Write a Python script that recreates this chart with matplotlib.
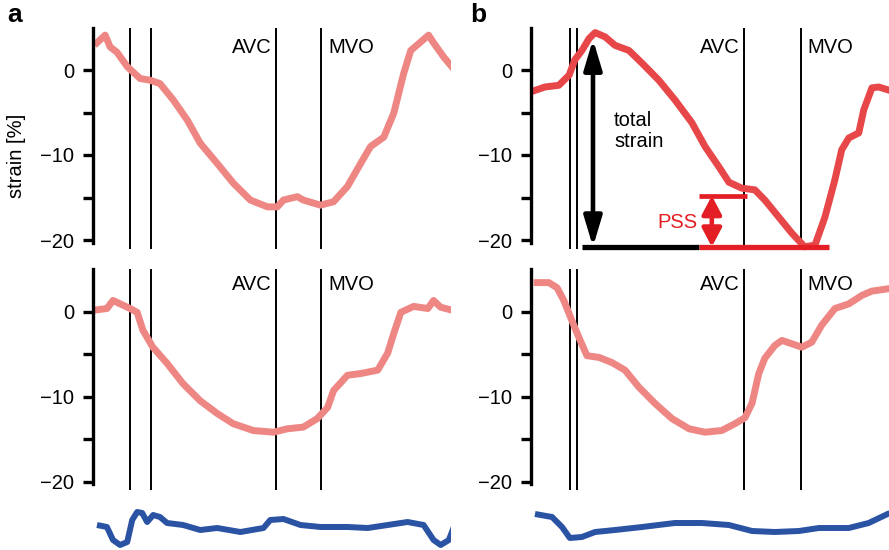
import numpy as np
import matplotlib.pyplot as plt

plt.rcParams['font.family'] = ['Liberation Sans', 'DejaVu Sans']

# time axis in % of cardiac cycle
# panel a, top (strain %)
a1_t = [0, 2.3, 3.7, 5.6, 8.5, 12.1, 14.9, 17.7, 21.4, 25.4, 29.0, 33.8, 38.3, 43.1,
        47.9, 50.7, 52.4, 56.3, 58.0, 62.8, 66.5, 70.4, 74.1, 76.9, 80.6, 83.4, 86.2,
        88.2, 91.0, 93.2, 94.6, 97.5, 100.3]
a1_s = [3.2, 4.1, 2.7, 2.1, 0.4, -1.0, -1.2, -1.6, -3.5, -5.9, -8.6, -11.0, -13.3, -15.3,
        -16.1, -16.1, -15.3, -14.9, -15.3, -15.9, -15.5, -13.7, -11.0, -9.0, -7.9, -5.1, -0.4,
        2.3, 3.3, 4.1, 3.2, 1.5, 0.1]

# panel a, bottom
a2_t = [0, 2.8, 4.5, 6.5, 9.3, 11.3, 12.9, 15.7, 19.7, 24.2, 29.0, 33.8, 38.3, 43.9,
        49.6, 53.5, 58.0, 61.9, 64.8, 66.5, 70.4, 74.1, 78.9, 81.7, 83.4, 85.4, 89.0,
        93.0, 94.6, 96.6, 99.4, 100.3]
a2_s = [0.2, 0.35, 1.3, 0.9, 0.35, -0.1, -2.2, -4.2, -6.1, -8.5, -10.5, -12.0, -13.2, -14.0,
        -14.2, -13.8, -13.6, -12.6, -11.3, -9.3, -7.5, -7.3, -6.9, -4.9, -2.6, -0.1, 0.6,
        0.35, 1.3, 0.5, 0.2, 0.1]

# panel a, bottom trace (blue)
a3_t = [0, 2.8, 4.5, 6.5, 8.5, 9.9, 11.3, 12.7, 14.1, 15.8, 17.7, 19.7, 24.2, 29.0, 33.8,
        40.3, 46.8, 48.7, 52.4, 57.2, 62.8, 70.4, 76.1, 81.7, 87.3, 91.8, 94.6, 96.6, 98.9, 100.3]
a3_v = [0, -0.4, -3.0, -4.0, -3.4, 1.0, 2.6, 2.4, 0.6, 2.0, 1.6, 0.4, 0, -1.0, -0.6,
        -1.4, -0.6, 1.0, 1.2, 0, -0.4, -0.4, -0.6, 0, 0.6, 0, -3.0, -4.0, -3.0, -0.4]

# panel b, top
b1_t = [0, 2.8, 6.7, 9.6, 11.2, 13.2, 15.2, 16.9, 19.7, 22.5, 26.4, 30.1, 34.8, 39.3,
        44.1, 47.8, 51.7, 54.5, 58.1, 61.8, 64.6, 68.5, 72.2, 75.8, 78.7, 81.5, 84.3,
        86.2, 88.2, 91.0, 92.4, 94.7, 96.6, 99.7]
b1_s = [-2.4, -2.0, -1.8, -0.6, 1.2, 2.3, 3.7, 4.4, 3.9, 2.9, 2.3, 0.8, -1.2, -3.5,
        -6.2, -9.0, -11.4, -13.2, -13.9, -14.1, -15.3, -17.3, -19.2, -20.8, -20.6, -17.3, -12.9,
        -9.4, -8.0, -7.4, -4.7, -2.1, -2.0, -2.4]

# panel b, bottom
b2_t = [0.6, 3.9, 6.2, 8.1, 10.4, 12.4, 14.6, 18.0, 21.6, 25.3, 29.2, 33.7, 38.5, 43.3,
        47.8, 52.5, 56.2, 59.0, 61.0, 62.9, 64.6, 67.4, 69.4, 72.2, 75.0, 77.8, 80.6,
        84.3, 88.2, 91.9, 94.7, 99.7]
b2_s = [3.4, 3.4, 2.8, 1.3, -1.1, -3.1, -5.2, -5.4, -6.0, -6.9, -8.9, -10.8, -12.6, -13.8,
        -14.2, -14.0, -13.2, -12.5, -10.8, -7.3, -5.5, -4.0, -3.4, -3.8, -4.2, -3.6, -1.6,
        0.35, 0.9, 1.9, 2.4, 2.7]

# panel b, bottom trace (blue)
b3_t = [0, 4.8, 7.6, 9.8, 13.2, 16.9, 22.5, 30.1, 39.3, 46.9, 54.5, 61.0, 67.4, 74.2,
        79.8, 88.2, 93.8, 99.7]
b3_v = [2.2, 1.6, -0.4, -2.6, -2.4, -1.4, -1.0, -0.4, 0.4, 0.4, 0, -1.2, -1.4, -1.2,
        -0.6, -0.6, 0.4, 2.4]

# event markers
a_events = [9.3, 15.2, 50.4, 63.1]
b_events = [9.8, 11.8, 58.7, 74.7]

# total strain / PSS annotation (panel b)
peak_t, peak_s = 16.3, 3.6
end_sys_t, end_sys_s = 46.1, -14.8
min_t, min_s = 82.6, -20.8
avc_b = 59.6

PINK = '#ee8784'
RED_CURVE = '#e8474a'
RED = '#e31e24'
BLUE = '#2b53a3'

W, H = 889, 550
fig = plt.figure(figsize=(W / 100, H / 100), dpi=100)


def px_axes(x0, y0, x1, y1):
    return fig.add_axes([x0 / W, 1 - y1 / H, (x1 - x0) / W, (y1 - y0) / H])


def strain_axes(x0, y_top, y_bot, events, label_y):
    ax = px_axes(x0, y_top, x0 + 358, y_bot)
    ax.set_xlim(-1.12, 99.5)
    ax.set_ylim(-22, 5)
    for s in ['top', 'right', 'bottom']:
        ax.spines[s].set_visible(False)
    ax.spines['left'].set_linewidth(2.4)
    ax.spines['left'].set_bounds(-20.3, 5)
    ax.set_xticks([])
    ax.set_yticks([0, -10, -20])
    ax.set_yticks([-5, -15], minor=True)
    ax.tick_params(axis='y', which='both', length=7.5, width=2.4, pad=6, labelsize=14.5)
    ax.patch.set_alpha(0)
    ax.vlines(events, -21, 5, color='black', lw=1.4, zorder=1)
    ax.text(events[2] - 1.3, label_y, 'AVC', ha='right', va='center', fontsize=14.5)
    ax.text(events[3] + 1.8, label_y, 'MVO', ha='left', va='center', fontsize=14.5)
    return ax


def blue_axes(x0, t, v):
    ax = px_axes(x0, 505, x0 + 358, 550)
    ax.set_xlim(-1.12, 99.5)
    ax.set_ylim(-5, 4)
    ax.axis('off')
    ax.plot(t, v, color=BLUE, lw=4.3, solid_capstyle='butt')
    return ax


# column a
ax = strain_axes(93, 27.5, 257, a_events, 2.6)
ax.plot(a1_t, a1_s, color=PINK, lw=5, zorder=2)
fig.text(17 / W, 1 - 156 / H, 'strain [%]', rotation=90, ha='center', va='center',
         fontsize=14.5)

ax = strain_axes(93, 269, 498.5, a_events, 3.2)
ax.plot(a2_t, a2_s, color=PINK, lw=5, zorder=2)

blue_axes(93, a3_t, a3_v)

# column b
ax = strain_axes(531, 27.5, 257, b_events, 2.6)
ax.plot(b1_t, b1_s, color=RED_CURVE, lw=5, zorder=2)
ax.plot([13.2, end_sys_t], [min_s, min_s], color='black', lw=3.8, zorder=3,
        solid_capstyle='butt')
ax.plot([end_sys_t, min_t], [min_s, min_s], color=RED, lw=3.8, zorder=3,
        solid_capstyle='butt')
ax.plot([end_sys_t, avc_b], [end_sys_s, end_sys_s], color=RED, lw=3.4, zorder=3,
        solid_capstyle='butt')
ax.annotate('', xy=(peak_t, peak_s), xytext=(peak_t, min_s),
            arrowprops=dict(arrowstyle='<|-|>,head_length=1.4,head_width=0.42',
                            mutation_scale=13, lw=3.3, color='black',
                            shrinkA=0, shrinkB=0), zorder=4)
ax.annotate('', xy=(49.7, end_sys_s), xytext=(49.7, min_s),
            arrowprops=dict(arrowstyle='<|-|>,head_length=0.85,head_width=0.45',
                            mutation_scale=13, lw=3.3, color=RED,
                            shrinkA=0, shrinkB=0), zorder=4)
ax.text(22.2, -7.2, 'total\nstrain', ha='left', va='center', fontsize=14.5,
        linespacing=1.15)
ax.text(39.9, -17.9, 'PSS', ha='center', va='center', fontsize=14.5, color=RED)

ax = strain_axes(531, 269, 498.5, b_events, 3.2)
ax.plot(b2_t, b2_s, color=PINK, lw=5, zorder=2)

blue_axes(531, b3_t, b3_v)

fig.text(7 / W, 1 - 3 / H, 'a', fontsize=19, fontweight='bold', ha='left', va='top')
fig.text(470 / W, 1 - 3 / H, 'b', fontsize=19, fontweight='bold', ha='left', va='top')

fig.savefig('out.png', dpi=100)
